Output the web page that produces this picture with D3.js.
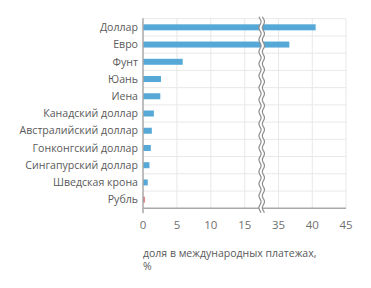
<!DOCTYPE html>
<html>
<head>
<meta charset="utf-8">
<script src="https://cdn.jsdelivr.net/npm/d3@7"></script>
<style>
  body { margin: 0; background: #fff; }
  svg text { font-family: "Open Sans", "Noto Sans", sans-serif; }
</style>
</head>
<body>
<div id="chart"></div>
<script>
var currencies = ["Доллар", "Евро", "Фунт", "Юань", "Иена", "Канадский доллар",
    "Австралийский доллар", "Гонконгский доллар", "Сингапурский доллар",
    "Шведская крона", "Рубль"];
var shares = [40.5, 36.6, 5.85, 2.65, 2.55, 1.6, 1.3, 1.15, 0.95, 0.7, 0.25];
var tickValues = [0, 5, 10, 15, 35, 40, 45];
var axisTitle = ["доля в международных платежах,", "%"];

var width = 371, height = 288;
var plotLeft = 143, plotRight = 346, plotTop = 18.7, plotBottom = 208.3;
var breakX = 261.7;

var svg = d3.select("#chart").append("svg")
    .attr("width", width)
    .attr("height", height);

// broken axis: 0..17.5 on the left of the break, 32.5..45 on the right
var x = d3.scaleLinear()
    .domain([0, 17.5, 32.5, 45])
    .range([plotLeft, breakX, breakX, plotRight]);

var y = d3.scaleBand()
    .domain(currencies)
    .range([plotTop, plotBottom]);

var barH = 6;

// grid
svg.selectAll(".hgrid")
    .data(currencies)
    .enter()
    .append("line")
    .attr("x1", plotLeft)
    .attr("x2", plotRight)
    .attr("y1", function (d) { return y(d); })
    .attr("y2", function (d) { return y(d); })
    .style("stroke", "#e8e8e8")
    .style("stroke-width", 1);

svg.selectAll(".vgrid")
    .data(tickValues.slice(1))
    .enter()
    .append("line")
    .attr("x1", function (d) { return x(d); })
    .attr("x2", function (d) { return x(d); })
    .attr("y1", plotTop)
    .attr("y2", plotBottom)
    .style("stroke", "#e8e8e8")
    .style("stroke-width", 1);

// bars
svg.selectAll(".bar")
    .data(currencies)
    .enter()
    .append("rect")
    .attr("x", x(0))
    .attr("y", function (d) { return y(d) + y.bandwidth() / 2 - barH / 2; })
    .attr("width", function (d, i) { return x(shares[i]) - x(0); })
    .attr("height", barH)
    .style("fill", function (d) { return d == "Рубль" ? "#dc5560" : "#56a9d7"; });

// axes lines
svg.append("line")
    .attr("x1", plotLeft).attr("x2", plotRight)
    .attr("y1", plotBottom).attr("y2", plotBottom)
    .style("stroke", "#a9a9a9")
    .style("stroke-width", 1.5);

svg.append("line")
    .attr("x1", plotLeft).attr("x2", plotLeft)
    .attr("y1", plotTop - 0.5).attr("y2", plotBottom + 5)
    .style("stroke", "#a9a9a9")
    .style("stroke-width", 1.5);

// break marks
function wave(x0) {
    var pts = [];
    for (var yy = plotTop - 2; yy <= plotBottom + 5; yy += 1) {
        pts.push([x0 + 1.1 * Math.sin((yy - plotTop) / 12 * 2 * Math.PI), yy]);
    }
    return pts;
}
var line = d3.line().curve(d3.curveBasis);
var w1 = wave(breakX - 1.7), w2 = wave(breakX + 1.7);
svg.append("path")
    .attr("d", line(w1.concat(w2.slice().reverse())) + "Z")
    .style("fill", "#fff")
    .style("stroke", "none");
[w1, w2].forEach(function (w) {
    svg.append("path")
        .attr("d", line(w))
        .style("fill", "none")
        .style("stroke", "#8c8c8c")
        .style("stroke-width", 1.2);
});

// labels
svg.selectAll(".cat")
    .data(currencies)
    .enter()
    .append("text")
    .attr("x", plotLeft - 5)
    .attr("y", function (d) { return y(d) + y.bandwidth() / 2; })
    .attr("dy", "0.35em")
    .attr("text-anchor", "end")
    .style("font-size", "10.6px")
    .style("fill", "#5a5a5a")
    .text(function (d) { return d; });

svg.selectAll(".ticklabel")
    .data(tickValues)
    .enter()
    .append("text")
    .attr("x", function (d) { return x(d); })
    .attr("y", 225)
    .attr("dy", "0.35em")
    .attr("text-anchor", "middle")
    .style("font-size", "11.5px")
    .style("fill", "#707070")
    .text(function (d) { return d; });

svg.selectAll(".title")
    .data(axisTitle)
    .enter()
    .append("text")
    .attr("x", plotLeft)
    .attr("y", function (d, i) { return 253.5 + i * 13.3; })
    .attr("dy", "0.35em")
    .style("font-size", "10.5px")
    .style("fill", "#5a5a5a")
    .text(function (d) { return d; });
</script>
</body>
</html>
